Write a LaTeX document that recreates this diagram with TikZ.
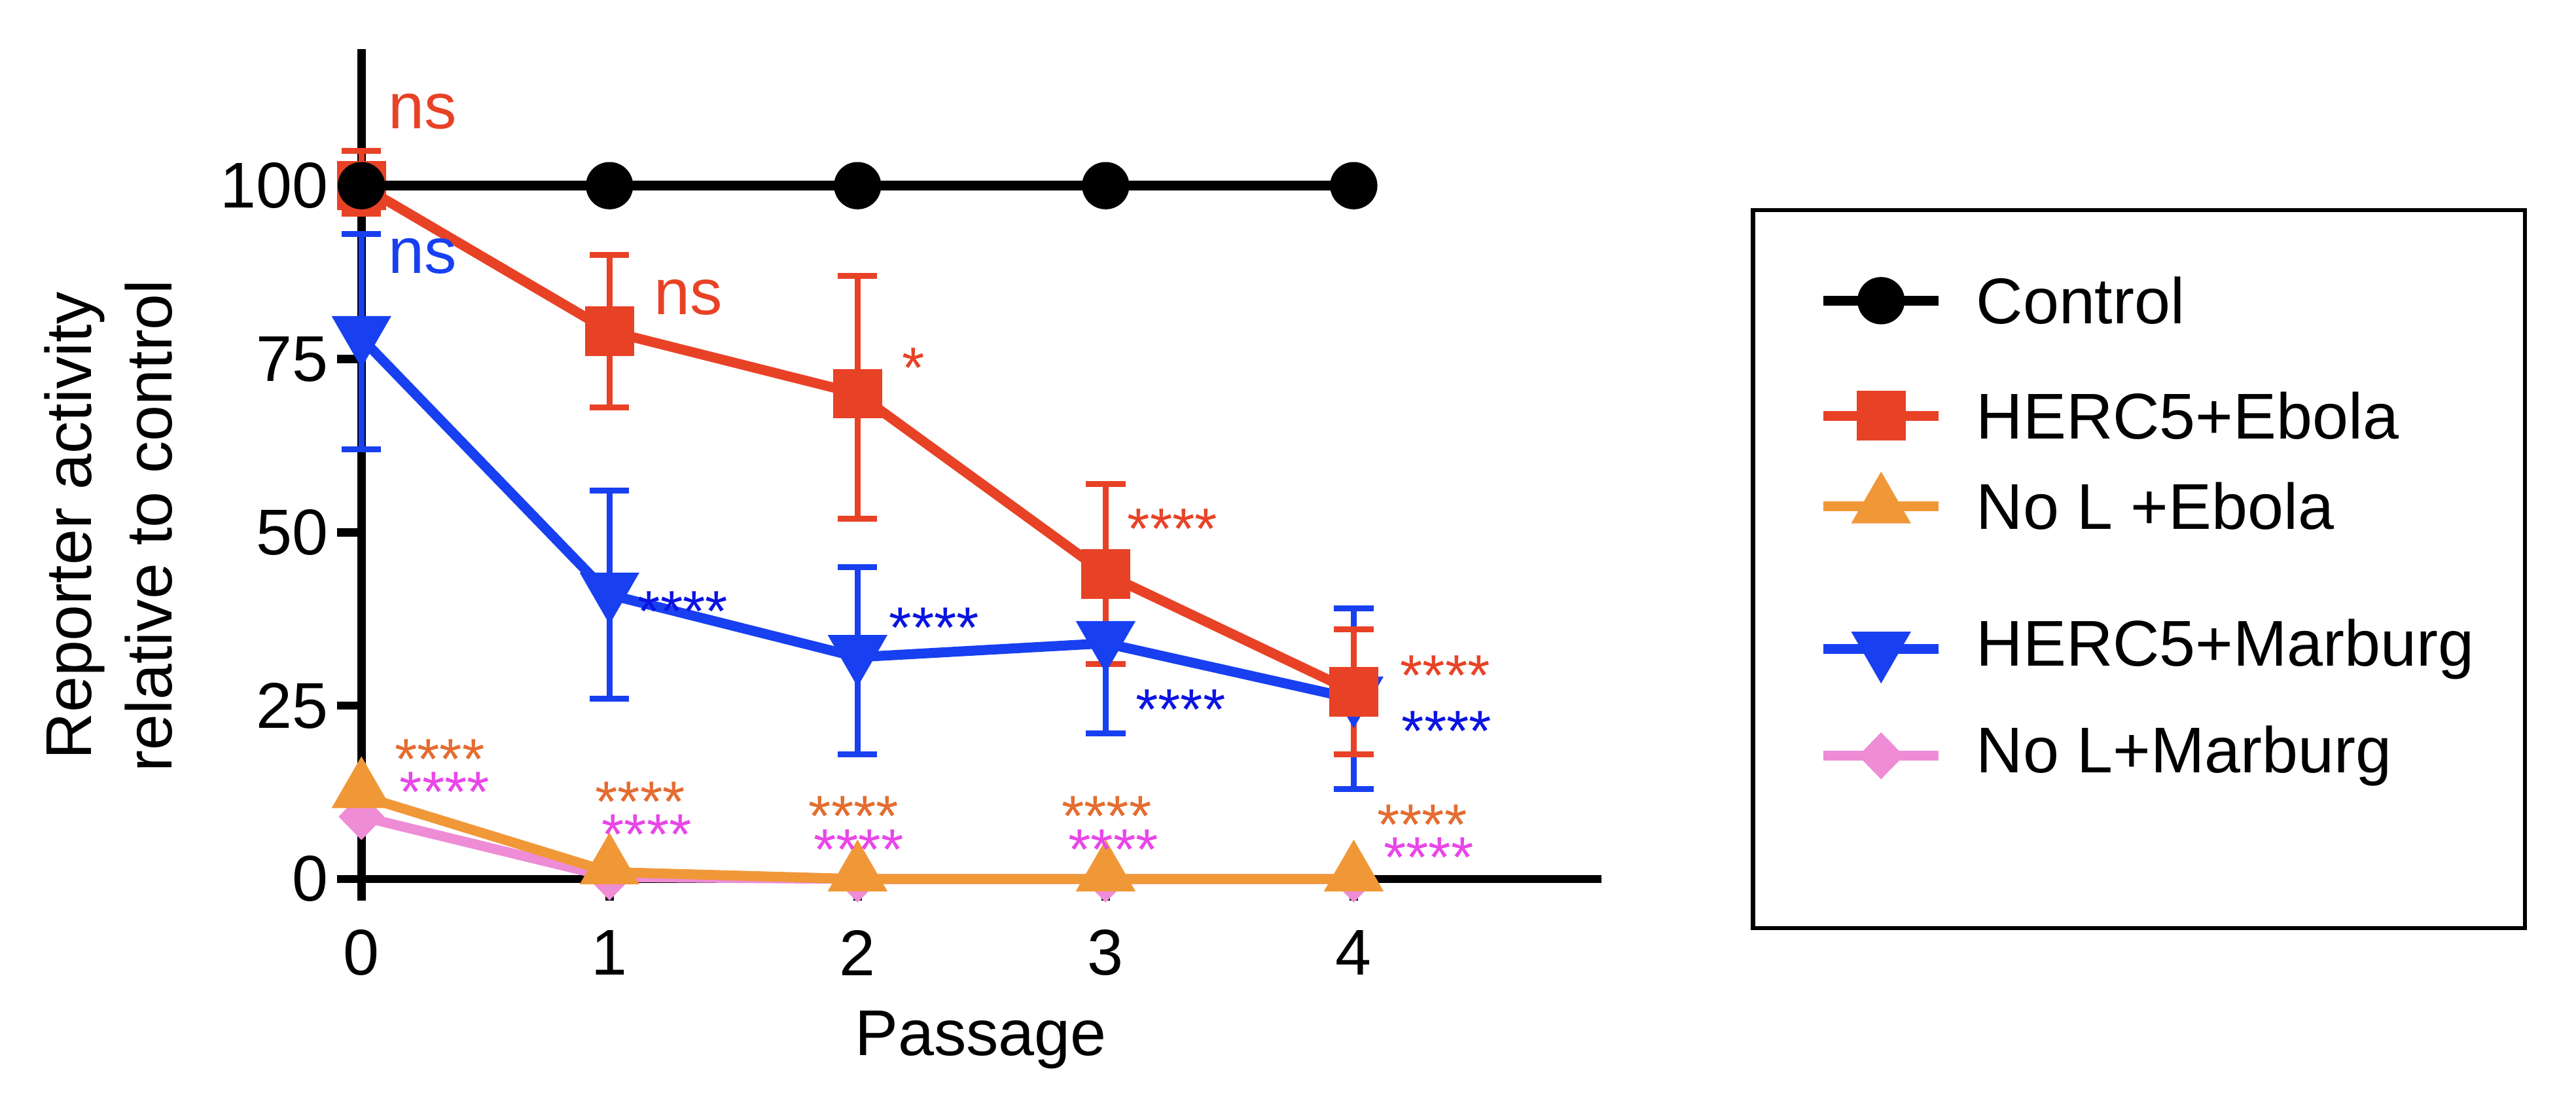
\documentclass[tikz,border=0pt]{standalone}
\usepackage{fontspec}
\setmainfont{Liberation Sans}
\begin{document}
\begin{tikzpicture}[x=0.025cm,y=-0.025cm,
  declare function={px(\p)=220+151*\p; py(\v)=535-4.22*\v;},
  ser/.style={line width=4.3pt,line join=round},
  eb/.style={line width=2.6pt},
  lab/.style={font=\fontsize{28}{32}\selectfont},
  st/.style={font=\fontsize{25}{26}\selectfont,inner sep=0pt},
  sq/.style={fill=cRed,minimum size=0.75cm,inner sep=0pt,draw=none,rectangle},
  ci/.style={fill=black,circle,minimum size=0.72cm,inner sep=0pt},
  tu/.style={fill=cOra,regular polygon,regular polygon sides=3,minimum size=1.05cm,inner sep=0pt},
  td/.style={fill=cBlue,regular polygon,regular polygon sides=3,shape border rotate=180,minimum size=1.05cm,inner sep=0pt},
  di/.style={fill=cPink,diamond,minimum width=0.7cm,minimum height=0.72cm,inner sep=0pt}]
\usetikzlibrary{shapes.geometric}
\definecolor{cRed}{RGB}{232,66,38}
\definecolor{cBlue}{RGB}{24,64,240}
\definecolor{cBs}{RGB}{10,20,225}
\definecolor{cOra}{RGB}{240,152,56}
\definecolor{cOs}{RGB}{228,108,48}
\definecolor{cPink}{RGB}{238,140,214}
\definecolor{cPs}{RGB}{232,70,232}
\useasboundingbox (0,0) rectangle (1568,678);
% axes
\draw[line width=3.6pt] (220,30) -- (220,545);
\draw[line width=3.6pt] (212,535) -- (975,535);
\foreach \v in {0,25,50,75,100}{
  \draw[line width=3.6pt] (205,{py(\v)}) -- (220,{py(\v)});
  \node[lab,anchor=east,inner sep=0pt] (yt\v) at (200,{py(\v)}) {\v};}
\foreach \p in {0,...,4}{
  \draw[line width=3.6pt] ({px(\p)},535) -- ({px(\p)},548);
  \node[lab,inner sep=0pt] (xt\p) at ({px(\p)},580) {\p};}
\node[lab] (xl) at (597,633) {Passage};
\node[rotate=90,align=center,font=\fontsize{28}{35}\selectfont] (yl) at (66,320) {Reporter activity\\relative to control};
% error bars
\def\ebar#1#2#3#4{\draw[eb,#1] ({px(#2)},{py(#3)}) -- ({px(#2)},{py(#4)});
  \draw[eb,#1] ({px(#2)-12},{py(#3)}) -- ({px(#2)+12},{py(#3)});
  \draw[eb,#1] ({px(#2)-12},{py(#4)}) -- ({px(#2)+12},{py(#4)});}
\ebar{cBlue}{0}{62}{93}\ebar{cBlue}{1}{26}{56}\ebar{cBlue}{2}{18}{45}\ebar{cBlue}{3}{21}{46}\ebar{cBlue}{4}{13}{39}
\ebar{cRed}{0}{96}{105}\ebar{cRed}{1}{68}{90}\ebar{cRed}{2}{52}{87}\ebar{cRed}{3}{31}{57}\ebar{cRed}{4}{18}{36}
% blue
\draw[ser,cBlue] ({px(0)},{py(78)}) -- ({px(1)},{py(41)}) -- ({px(2)},{py(32)}) -- ({px(3)},{py(34)}) -- ({px(4)},{py(26)});
\foreach \p/\v in {0/78,1/41,2/32,3/34,4/26} \node[td] (b\p) at ({px(\p)},{py(\v)-3}) {};
% red
\draw[ser,cRed] ({px(0)},{py(100)}) -- ({px(1)},{py(79)}) -- ({px(2)},{py(70)}) -- ({px(3)},{py(44)}) -- ({px(4)},{py(27)});
\foreach \p/\v in {0/100,1/79,2/70,3/44,4/27} \node[sq] (r\p) at ({px(\p)},{py(\v)}) {};
% pink
\draw[ser,cPink] ({px(0)},{py(9)}) -- ({px(1)},{py(0.3)}) -- ({px(2)},{py(0)}) -- ({px(3)},{py(0)}) -- ({px(4)},{py(0)});
\foreach \p/\v in {0/9,1/0.3,2/0,3/0,4/0} \node[di] (p\p) at ({px(\p)},{py(\v)}) {};
% orange
\draw[ser,cOra] ({px(0)},{py(12)}) -- ({px(1)},{py(1)}) -- ({px(2)},{py(0)}) -- ({px(3)},{py(0)}) -- ({px(4)},{py(0)});
\foreach \p/\v in {0/12,1/1,2/0,3/0,4/0} \node[tu] (o\p) at ({px(\p)},{py(\v)-3}) {};
% black
\draw[ser,black] ({px(0)},{py(100)}) -- ({px(4)},{py(100)});
\foreach \p in {0,...,4} \node[ci] (c\p) at ({px(\p)},{py(100)}) {};
% annotations
\node[lab,cRed,anchor=west,inner sep=0pt] (a1) at (236,68) {ns};
\node[lab,cRed,anchor=west,inner sep=0pt] (a2) at (398,181) {ns};
\node[st,cRed,anchor=west] (a3) at (549,224) {*};
\node[st,cRed,anchor=west] (a4) at (686,322) {****};
\node[st,cRed,anchor=west] (a5) at (852,411) {****};
\node[lab,cBlue,anchor=west,inner sep=0pt] (a6) at (236,156) {ns};
\node[st,cBs,anchor=west] (a7) at (388,372) {****};
\node[st,cBs,anchor=west] (a8) at (541,382) {****};
\node[st,cBs,anchor=west] (a9) at (691,432) {****};
\node[st,cBs,anchor=west] (a10) at (853,445) {****};
\foreach \n/\x/\y/\xx/\yy in {0/240/462/243/482,1/362/488/366/508,2/492/497/495/517,3/646/497/650/517,4/838/502/842/522}{
  \node[st,cOs,anchor=west] (so\n) at (\x,\y) {****};
  \node[st,cPs,anchor=west] (sp\n) at (\xx,\yy) {****};}
% legend
\draw[line width=1.8pt] (1067,128) rectangle (1537,565);
\foreach \y/\t/\c/\s in {183/Control/black/ci,253/HERC5+Ebola/cRed/sq,308/No L +Ebola/cOra/tu,395/HERC5+Marburg/cBlue/td,460/No L+Marburg/cPink/di}{
  \draw[ser,\c] (1110,\y) -- (1180,\y);
  \node[\s] at (1145,\y) {};
  \node[lab,anchor=west] at (1198,\y) {\t};}
\end{tikzpicture}
\end{document}
